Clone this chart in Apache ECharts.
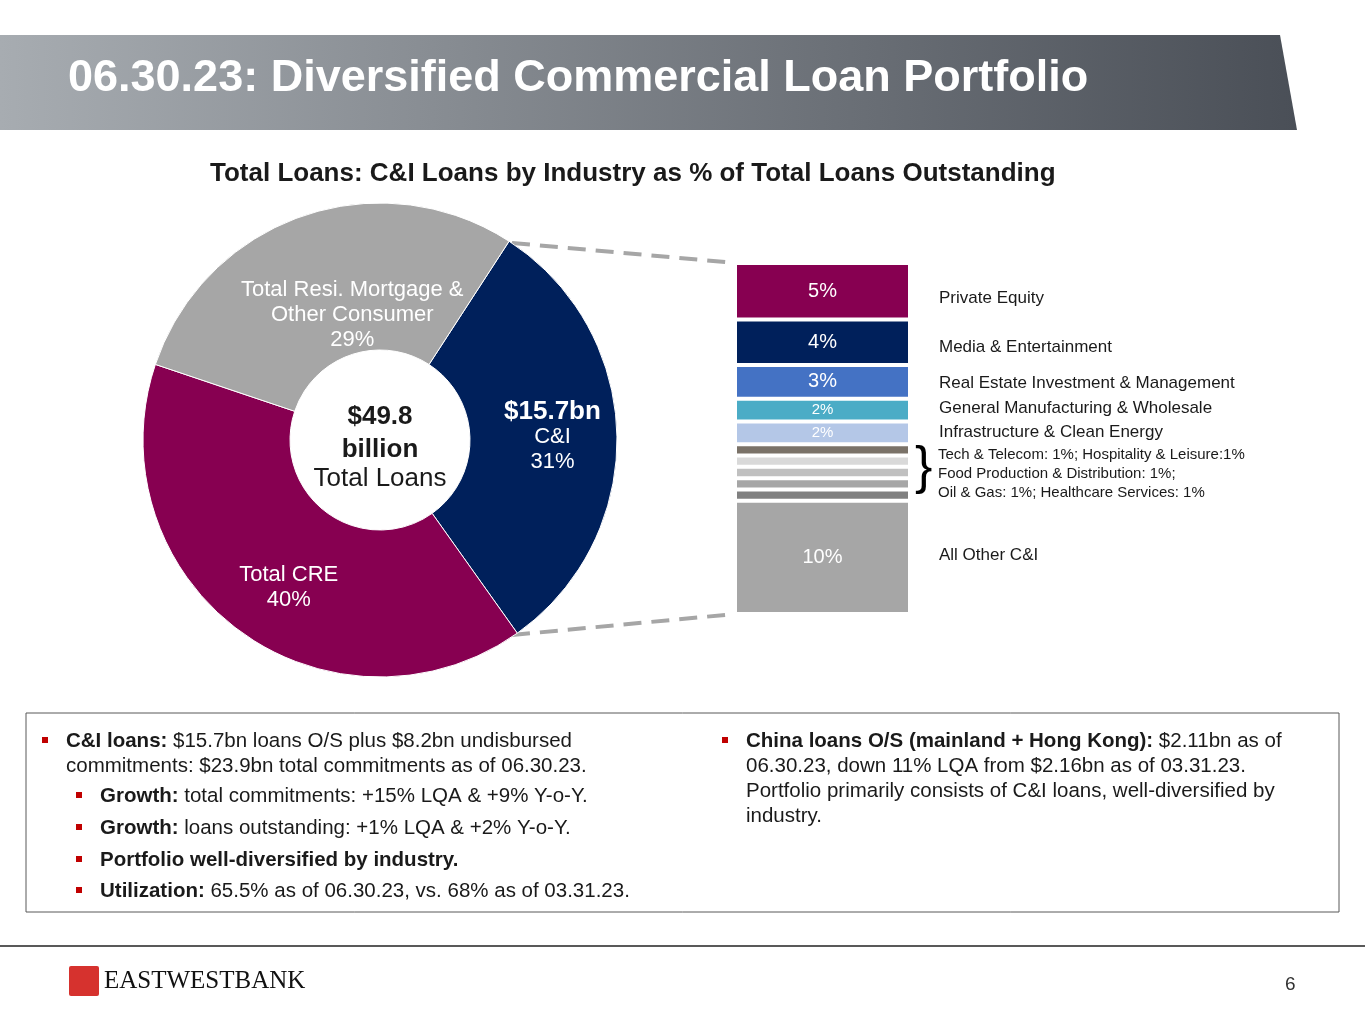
<!DOCTYPE html>
<html>
<head>
<meta charset="utf-8">
<script src="https://cdn.jsdelivr.net/npm/echarts@6/dist/echarts.min.js"></script>
<style>
  html, body { margin: 0; padding: 0; background: #fff; }
  #main { width: 1365px; height: 1024px; }
</style>
</head>
<body>
<div id="main"></div>
<script>
// donut: total loans split
var pieNames = ['C&I', 'Total CRE', 'Total Resi. Mortgage &\nOther Consumer'];
var pieValues = [31, 40, 29];
var pieColors = ['#00205b', '#870051', '#a6a6a6'];

// C&I split, bottom to top
var segNames = ['All Other C&I', 'Seg5', 'Seg4', 'Seg3', 'Seg2', 'Seg1',
    'Infrastructure & Clean Energy', 'General Manufacturing & Wholesale',
    'Real Estate Investment & Management', 'Media & Entertainment', 'Private Equity'];
var segValues = [10, 1, 1, 1, 1, 1, 2, 2, 3, 4, 5];
var segColors = ['#a6a6a6', '#808080', '#a6a6a6', '#c0c0c0', '#d9d9d9', '#7a7268',
    '#b4c7e7', '#4bacc6', '#4472c4', '#00205b', '#870051'];

var font = '"Liberation Sans", Arial, sans-serif';
var chart = echarts.init(document.getElementById('main'));

var barSeries = segValues.map(function (v, i) {
    return {
        name: segNames[i],
        type: 'bar',
        stack: 'ci',
        barWidth: 175,
        data: [v],
        itemStyle: { color: segColors[i], borderColor: '#fff', borderWidth: 2 },
        label: {
            show: v > 1,
            position: 'inside',
            formatter: v + '%',
            color: '#fff',
            fontFamily: font,
            fontSize: v === 2 ? 15 : 20
        },
        silent: true
    };
});

var sideLabels = [
    ['Private Equity', 298],
    ['Media & Entertainment', 347],
    ['Real Estate Investment & Management', 383],
    ['General Manufacturing & Wholesale', 408],
    ['Infrastructure & Clean Energy', 432],
    ['All Other C&I', 555]
];

var graphics = [
    { type: 'polygon', shape: { points: [[0, 35], [1280, 35], [1297, 130], [0, 130]] },
      style: { fill: new echarts.graphic.LinearGradient(0, 0, 1, 0, [
          { offset: 0, color: '#a7acb1' }, { offset: 1, color: '#4a4f57' }]) } },
    { type: 'text', left: 68, top: 56, style: { text: '06.30.23: Diversified Commercial Loan Portfolio',
      fill: '#fff', font: 'bold 45px ' + font } },
    { type: 'text', left: 210, top: 161, style: { text: 'Total Loans: C&I Loans by Industry as % of Total Loans Outstanding',
      fill: '#1a1a1a', font: 'bold 26px ' + font } },
    { type: 'line', shape: { x1: 512, y1: 243, x2: 735, y2: 263 },
      style: { stroke: '#a6a6a6', lineWidth: 4, lineDash: [18, 10] } },
    { type: 'line', shape: { x1: 512, y1: 635, x2: 735, y2: 614 },
      style: { stroke: '#a6a6a6', lineWidth: 4, lineDash: [18, 10] } },
    { type: 'text', x: 380, y: 400, style: { text: '$49.8\nbillion', align: 'center',
      fill: '#1a1a1a', font: 'bold 26px ' + font, lineHeight: 33 } },
    { type: 'text', x: 380, y: 466, style: { text: 'Total Loans', align: 'center',
      fill: '#1a1a1a', font: '26px ' + font } },
    { type: 'text', x: 915, y: 443, style: { text: '}', fill: '#000', font: '52px ' + font } },
    { type: 'text', x: 938, y: 445, style: { text: 'Tech & Telecom: 1%; Hospitality & Leisure:1%\nFood Production & Distribution: 1%;\nOil & Gas: 1%; Healthcare Services: 1%',
      fill: '#1a1a1a', font: '15px ' + font, lineHeight: 19 } },
    { type: 'rect', shape: { x: 26, y: 713, width: 1313, height: 199 },
      style: { fill: 'none', stroke: '#595959', lineWidth: 1 } },
    { type: 'line', shape: { x1: 0, y1: 946, x2: 1365, y2: 946 }, style: { stroke: '#595959', lineWidth: 2 } },
    { type: 'rect', shape: { x: 69, y: 966, width: 30, height: 30, r: 2 }, style: { fill: '#d6322e' } },
    { type: 'text', left: 104, top: 969, style: { text: 'EASTWESTBANK', fill: '#111',
      font: '25px "Liberation Serif", serif' } },
    { type: 'text', left: 1285, top: 975, style: { text: '6', fill: '#333', font: '19px ' + font } }
];

sideLabels.forEach(function (s) {
    graphics.push({ type: 'text', x: 939, y: s[1], style: { text: s[0], fill: '#1a1a1a',
        font: '17px ' + font, verticalAlign: 'middle' } });
});

// bullet lists
var leftBullets = [
    [42, 742, '{b|C&I loans:} $15.7bn loans O/S plus $8.2bn undisbursed\ncommitments: $23.9bn total commitments as of 06.30.23.'],
    [76, 797, '{b|Growth:} total commitments: +15% LQA & +9% Y-o-Y.'],
    [76, 829, '{b|Growth:} loans outstanding: +1% LQA & +2% Y-o-Y.'],
    [76, 861, '{b|Portfolio well-diversified by industry.}'],
    [76, 892, '{b|Utilization:} 65.5% as of 06.30.23, vs. 68% as of 03.31.23.']
];
var rightBullets = [
    [722, 742, '{b|China loans O/S (mainland + Hong Kong):} $2.11bn as of\n06.30.23, down 11% LQA from $2.16bn as of 03.31.23.\nPortfolio primarily consists of C&I loans, well-diversified by\nindustry.']
];
leftBullets.concat(rightBullets).forEach(function (b) {
    graphics.push({ type: 'rect', shape: { x: b[0], y: b[1] - 5, width: 6, height: 6 }, style: { fill: '#c00000' } });
    graphics.push({ type: 'text', x: b[0] + 24, y: b[1] - 13, style: {
        text: b[2], fill: '#1a1a1a', font: '20.5px ' + font, lineHeight: 25,
        rich: { b: { fontWeight: 'bold', fontSize: 20.5, fontFamily: font } } } });
});

chart.setOption({
    animation: false,
    textStyle: { fontFamily: font },
    grid: { left: 735, top: 263, width: 175, height: 351 },
    xAxis: { type: 'category', data: ['C&I'], show: false },
    yAxis: { type: 'value', min: 0, max: 31, show: false },
    series: [{
        type: 'pie',
        center: [380, 440],
        radius: [90, 237],
        startAngle: 57,
        silent: true,
        itemStyle: { borderColor: '#fff', borderWidth: 1 },
        label: { position: 'inside', color: '#fff', fontSize: 22, lineHeight: 25,
            overflow: 'none', fontFamily: font,
            formatter: function (p) { return p.name + '\n' + p.value + '%'; } },
        data: pieValues.map(function (v, i) {
            var d = { name: pieNames[i], value: v, itemStyle: { color: pieColors[i] } };
            if (i === 0) {
                d.label = { offset: [6, 0], formatter: '{big|$15.7bn}\n' + pieNames[i] + '\n' + v + '%',
                    rich: { big: { fontSize: 26, fontWeight: 'bold', color: '#fff', fontFamily: font } } };
            } else if (i === 1) {
                d.label = { offset: [8, 14] };
            } else {
                d.label = { offset: [27, 32] };
            }
            return d;
        })
    }].concat(barSeries),
    graphic: graphics
});
</script>
</body>
</html>
